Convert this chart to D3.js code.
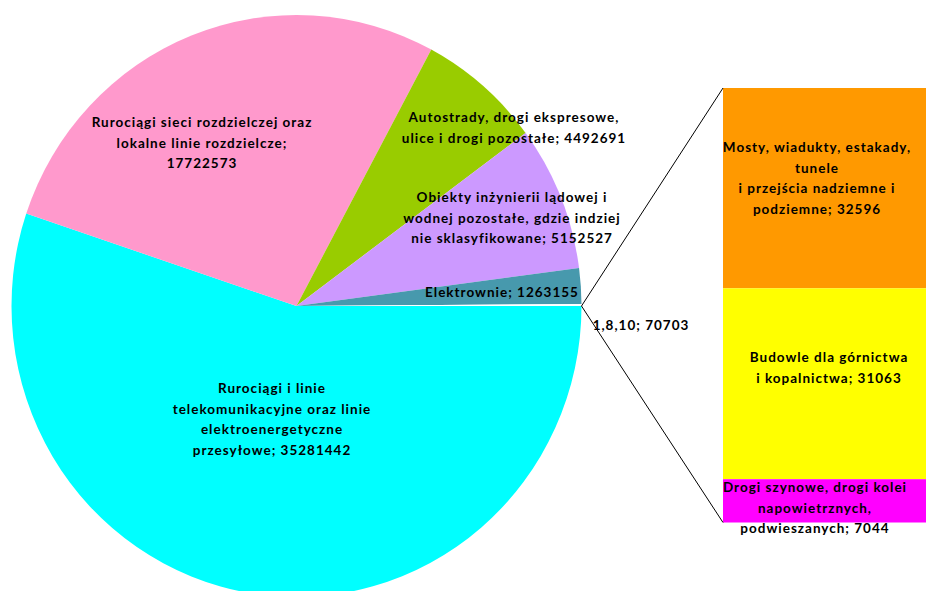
<!DOCTYPE html>
<html>
<head>
<meta charset="utf-8">
<script src="https://cdn.jsdelivr.net/npm/d3@7"></script>
<style>
  body { margin: 0; background: #fff; }
  svg text { font-family: Lato, "Open Sans", sans-serif; font-weight: bold; font-size: 13.5px; letter-spacing: 1px; fill: #000; }
</style>
</head>
<body>
<div id="chart"></div>
<script>
// pie slices (clockwise from 3 o'clock)
var pieNames = [
  ["Rurociągi i linie", "telekomunikacyjne oraz linie", "elektroenergetyczne", "przesyłowe; 35281442"],
  ["Rurociągi sieci rozdzielczej oraz", "lokalne linie rozdzielcze;", "17722573"],
  ["Autostrady, drogi ekspresowe,", "ulice i drogi pozostałe; 4492691"],
  ["Obiekty inżynierii lądowej i", "wodnej pozostałe, gdzie indziej", "nie sklasyfikowane; 5152527"],
  ["Elektrownie; 1263155"],
  ["1,8,10; 70703"]
];
var pieValues = [35281442, 17722573, 4492691, 5152527, 1263155, 70703];
var pieColors = ["#00ffff", "#ff99cc", "#99cc00", "#cc99ff", "#4799ad", "#ffffff"];

// bar of the "other" slice (top to bottom)
var barNames = [
  ["Mosty, wiadukty, estakady,", "tunele", "i przejścia nadziemne i", "podziemne; 32596"],
  ["Budowle dla górnictwa", "i kopalnictwa; 31063"],
  ["Drogi szynowe, drogi kolei", "napowietrznych,", "podwieszanych; 7044"]
];
var barValues = [32596, 31063, 7044];
var barColors = ["#ff9900", "#ffff00", "#ff00ff"];

// label centres (first line), pixels in the page
var pieLabelPos = [[272, 388], [202, 122], [514, 117], [512, 197], [502, 292], [641, 325]];
var barLabelPos = [[817, 147], [829, 357], [815, 487]];

var W = 926, H = 591;
var cx = 296.5, cy = 306, rx = 285, ry = 291;
var lineH = 20.7;

var svg = d3.select("#chart").append("svg")
    .attr("width", W)
    .attr("height", H);

// pie, starting at 3 o'clock going clockwise
var pie = d3.pie()
    .sort(null)
    .startAngle(Math.PI / 2)
    .endAngle(Math.PI / 2 + 2 * Math.PI);

var arc = d3.arc().innerRadius(0).outerRadius(rx);

var arcs = pie(pieValues);

var pieG = svg.append("g")
    .attr("transform", "translate(" + cx + "," + cy + ") scale(1," + (ry / rx) + ")");

pieG.selectAll("path")
    .data(arcs)
    .enter()
    .append("path")
    .attr("d", arc)
    .attr("fill", function(d, i) { return pieColors[i]; });

// bar
var barX = 723, barW = W - barX, barTop = 88, barH = 434.5;
var y = d3.scaleLinear()
    .domain([0, d3.sum(barValues)])
    .range([0, barH]);

var cum = 0;
var barData = barValues.map(function(v, i) {
  var d = { i: i, y0: cum, y1: cum + v };
  cum += v;
  return d;
});

svg.selectAll(".bar")
    .data(barData)
    .enter()
    .append("rect")
    .attr("class", "bar")
    .attr("x", barX)
    .attr("y", function(d) { return barTop + y(d.y0); })
    .attr("width", barW)
    .attr("height", function(d) { return y(d.y1) - y(d.y0); })
    .attr("fill", function(d) { return barColors[d.i]; });

// connector lines from the small slice to the bar
var other = arcs[arcs.length - 1];
var a = other.endAngle;
var px = cx + rx * Math.sin(a), py = cy - ry * Math.cos(a);
svg.append("line")
    .attr("x1", px).attr("y1", py)
    .attr("x2", barX).attr("y2", barTop + y(0))
    .attr("stroke", "#000").attr("stroke-width", 1);
svg.append("line")
    .attr("x1", px).attr("y1", py)
    .attr("x2", barX).attr("y2", barTop + y(d3.sum(barValues)))
    .attr("stroke", "#000").attr("stroke-width", 1);

// labels
function drawLabel(lines, pos) {
  var t = svg.append("text")
      .attr("text-anchor", "middle")
      .attr("dominant-baseline", "central");
  lines.forEach(function(s, k) {
    t.append("tspan")
        .attr("x", pos[0])
        .attr("y", pos[1] + k * lineH)
        .text(s);
  });
}

pieNames.forEach(function(lines, i) { drawLabel(lines, pieLabelPos[i]); });
barNames.forEach(function(lines, i) { drawLabel(lines, barLabelPos[i]); });
</script>
</body>
</html>
